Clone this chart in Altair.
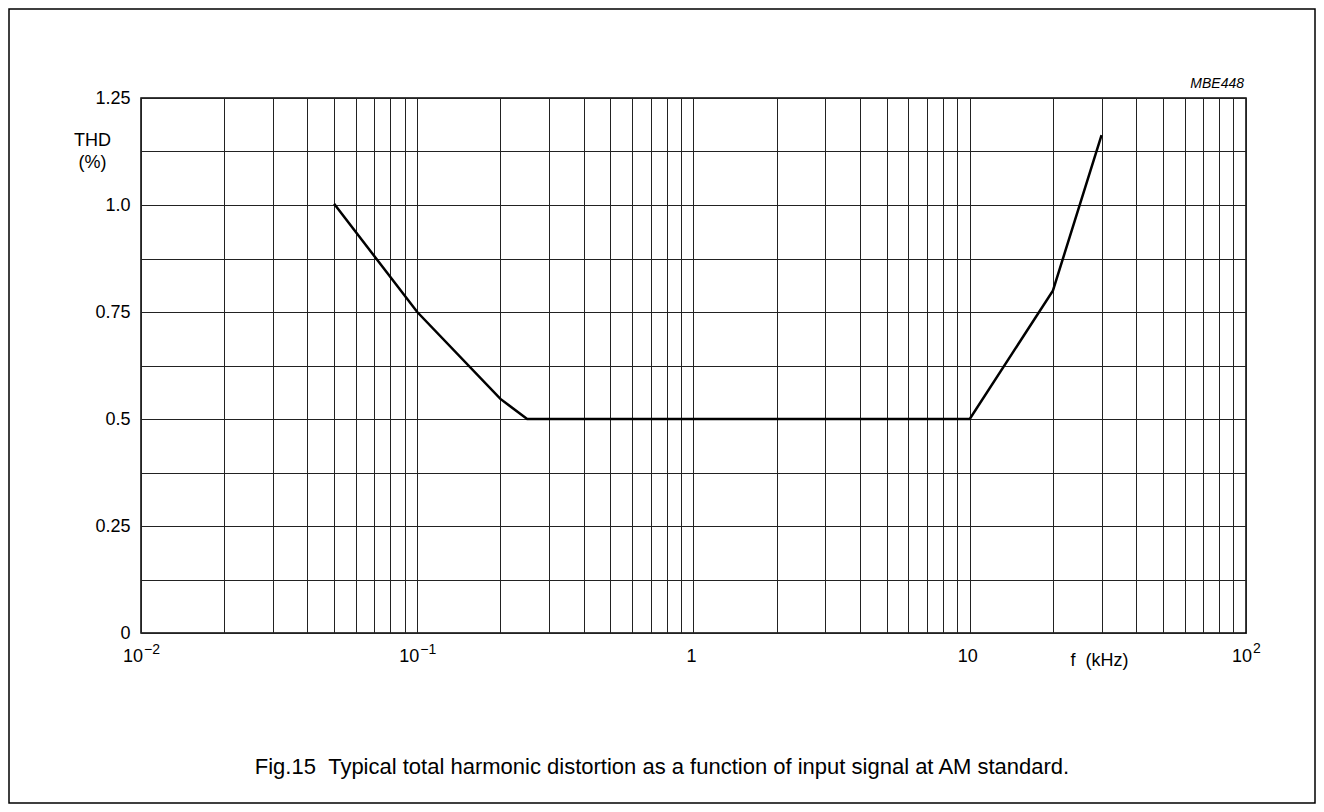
import altair as alt
import pandas as pd

# ---- data ----
freq_khz = [0.05, 0.1, 0.2, 0.25, 10, 20, 30]
thd_pct = [1.003, 0.75, 0.547, 0.5, 0.5, 0.8, 1.163]

y_tick_vals = [0, 0.125, 0.25, 0.375, 0.5, 0.625, 0.75, 0.875, 1.0, 1.125, 1.25]
y_label_vals = [0, 0.25, 0.5, 0.75, 1.0, 1.25]
y_label_txt = ["0", "0.25", "0.5", "0.75", "1.0", "1.25"]

x_grid_vals = [round(m * 10.0 ** k, 10) for k in range(-2, 2) for m in range(1, 10)] + [100.0]

dec_vals = [0.01, 0.1, 1, 10, 100]
dec_base = ["10", "10", "1", "10", "10"]
dec_sup = ["\u22122", "\u22121", "", "", "2"]
dec_group = ["neg", "neg", "plain", "plain", "pos"]

caption = "Fig.15\u00a0\u00a0Typical total harmonic distortion as a function of input signal at AM standard."
code_label = "MBE448"

FONT = "Liberation Sans"
W, H = 1105, 535

y_expr = " : ".join(f"datum.value == {v} ? '{t}'" for v, t in zip(y_label_vals, y_label_txt)) + " : ''"

line_df = pd.DataFrame({"f": freq_khz, "thd": thd_pct})
dec_df = pd.DataFrame({"f": dec_vals, "base": dec_base, "sup": dec_sup, "g": dec_group})
one = pd.DataFrame({"a": [0]})

xscale = alt.Scale(type="log", domain=[0.01, 100], nice=False)
yscale = alt.Scale(domain=[0, 1.25], nice=False)

line = alt.Chart(line_df).mark_line(color="black", strokeWidth=2.5, clip=False).encode(
    x=alt.X("f:Q", scale=xscale,
            axis=alt.Axis(values=x_grid_vals, grid=True, gridColor="#222", gridWidth=1,
                          ticks=False, domain=False, labels=False,
                          title="f\u00a0\u00a0(kHz)", titleFont=FONT, titleFontSize=18,
                          titleFontWeight="normal", titleColor="black",
                          titleAnchor="start", titleAlign="center", titleBaseline="middle",
                          titleX=958, titleY=27)),
    y=alt.Y("thd:Q", scale=yscale,
            axis=alt.Axis(values=y_tick_vals, grid=True, gridColor="#222", gridWidth=1,
                          ticks=False, domain=False, labelExpr=y_expr,
                          labelFont=FONT, labelFontSize=18, labelColor="black",
                          labelPadding=11,
                          title=["THD", "(%)"], titleFont=FONT, titleFontSize=18,
                          titleFontWeight="normal", titleColor="black", titleAngle=0,
                          titleAlign="center", titleBaseline="top", titleLineHeight=22,
                          titleX=-49, titleY=33)),
)

def dec_layer(group, field, align, dx, ypx, size):
    return alt.Chart(dec_df).transform_filter(alt.datum.g == group).mark_text(
        font=FONT, fontSize=size, align=align, baseline="alphabetic", dx=dx, color="black"
    ).encode(x=alt.X("f:Q", scale=xscale), y=alt.value(ypx), text=f"{field}:N")

labels = [
    dec_layer("neg", "base", "right", 2, 564, 18),
    dec_layer("neg", "sup", "left", 3, 556, 14),
    dec_layer("pos", "base", "right", 6, 564, 18),
    dec_layer("pos", "sup", "left", 7, 555, 14),
    dec_layer("plain", "base", "center", -2, 564, 18),
]

code = alt.Chart(pd.DataFrame({"t": [code_label]})).mark_text(
    font=FONT, fontSize=14, fontStyle="italic", align="right", baseline="alphabetic", color="black"
).encode(x=alt.value(1103), y=alt.value(-10), text="t:N")

cap = alt.Chart(pd.DataFrame({"t": [caption]})).mark_text(
    font=FONT, fontSize=22, align="center", baseline="middle", color="black"
).encode(x=alt.value(521), y=alt.value(669), text="t:N")

frame = alt.Chart(one).mark_rect(fill=None, stroke="black", strokeWidth=1.5).encode(
    x=alt.value(-132), x2=alt.value(1174), y=alt.value(-89), y2=alt.value(705)
)

chart = alt.layer(line, *labels, code, cap, frame).properties(
    width=W, height=H,
    padding={"left": 133, "top": 90, "right": 70, "bottom": 171},
    autosize=alt.AutoSizeParams(type="none"),
    background="white",
).configure_view(stroke="black", strokeWidth=1.5)

chart.save("out.html", embed_options={"renderer": "svg", "actions": False})
